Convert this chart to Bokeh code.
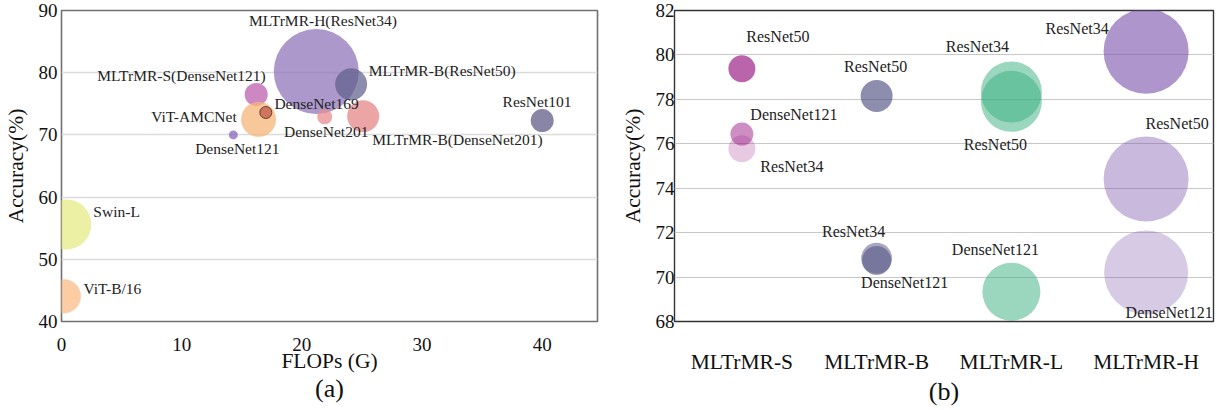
from bokeh.plotting import figure
from bokeh.models import Range1d, FixedTicker, FactorRange, Title, ColumnDataSource
from bokeh.layouts import row
from bokeh.core.properties import value
from bokeh.embed import file_html
from bokeh.resources import INLINE

FONT = "Liberation Serif"

# ---------------- data: panel (a) ----------------
models_a = ["MLTrMR-H(ResNet34)", "MLTrMR-B(ResNet50)", "MLTrMR-S(DenseNet121)",
            "ViT-AMCNet", "DenseNet169", "DenseNet201", "MLTrMR-B(DenseNet201)",
            "ResNet101", "DenseNet121", "Swin-L", "ViT-B/16"]
flops_a = [21.2, 24.1, 16.2, 16.4, 17.0, 21.9, 25.1, 40.0, 14.3, 0.4, 0.2]
acc_a = [80.2, 78.15, 76.5, 72.5, 73.6, 72.9, 73.0, 72.3, 70.0, 55.6, 44.05]
bubble_a = [85, 32, 23, 35, 12, 15, 32, 23, 9, 50, 34]

# ---------------- data: panel (b) ----------------
variants_b = ["MLTrMR-S", "MLTrMR-B", "MLTrMR-L", "MLTrMR-H"]
variant_b = ["MLTrMR-S"] * 3 + ["MLTrMR-B"] * 3 + ["MLTrMR-L"] * 3 + ["MLTrMR-H"] * 3
backbone_b = ["ResNet50", "DenseNet121", "ResNet34",
              "ResNet50", "ResNet34", "DenseNet121",
              "ResNet34", "ResNet50", "DenseNet121",
              "ResNet34", "ResNet50", "DenseNet121"]
acc_b = [79.38, 76.44, 75.78,
         78.15, 70.85, 70.75,
         78.33, 77.91, 69.34,
         80.17, 74.41, 70.21]
bubble_b = [27, 23, 27, 32, 31, 29, 61, 61, 58, 85, 85, 84]

# ---------------- styles ----------------
colors_a = ["#9076b8", "#5f5f8e", "#bc5faf", "#f6b67a", "#c05a48", "#e88e8e",
            "#e48787", "#5f5f87", "#8766bc", "#e4eb87", "#f8bc87"]
alpha_a = [0.75, 0.72, 0.75, 0.75, 0.75, 0.75, 0.75, 0.75, 0.75, 0.75, 0.75]
line_a = [None, None, None, None, "#6e3a30", None, None, None, None, None, None]
dx_a = [6.6, 91, -74.7, -64.6, 50.8, 1.5, 94.3, -5.2, 4, 50.3, 48.5]
dy_a = [-50.8, -13.8, -19.3, -2.7, -9.5, 14.6, 23.4, -19.5, 14, -12.7, -8.3]

colors_b = ["#a0288c"] * 3 + ["#505082"] * 3 + ["#37af7d"] * 3 + ["#7850aa"] * 3
alpha_b = [0.72, 0.52, 0.25, 0.65, 0.5, 0.55, 0.5, 0.5, 0.5, 0.6, 0.4, 0.3]
dx_b = [36, 52, 50, -1, -23, 28, -34, -16, -16, -69, 31, 23]
dy_b = [-32, -20, 18, -30, -27, 22, -46, 43, -42, -23, -56, 40]


def style(p, grid_color, grid_width, outline_color, outline_width):
    p.background_fill_color = "white"
    p.border_fill_color = "white"
    p.outline_line_color = outline_color
    p.outline_line_width = outline_width
    p.xgrid.grid_line_color = None
    p.ygrid.grid_line_color = grid_color
    p.ygrid.grid_line_width = grid_width
    for ax in (p.xaxis[0], p.yaxis[0]):
        ax.axis_line_color = None
        ax.major_tick_line_color = None
        ax.minor_tick_line_color = None
        ax.major_tick_out = 0
        ax.major_tick_in = 0
        ax.major_label_text_font = FONT
        ax.major_label_text_color = "#111111"
        ax.axis_label_text_font = FONT
        ax.axis_label_text_font_style = "normal"
        ax.axis_label_text_color = "#111111"
        ax.axis_label_text_font_size = "21.5px"


# ---------------- panel (a) ----------------
p1 = figure(width=606, height=410, x_range=Range1d(0, 44.6), y_range=Range1d(40, 90),
            output_backend="svg", toolbar_location=None,
            min_border_left=58, min_border_right=9, min_border_top=10, min_border_bottom=89)
style(p1, "#dcdcdc", 1.6, "#707070", 1.6)
p1.xaxis.ticker = FixedTicker(ticks=[0, 10, 20, 30, 40])
p1.yaxis.ticker = FixedTicker(ticks=[40, 50, 60, 70, 80, 90])
p1.xaxis.major_label_text_font_size = "19px"
p1.yaxis.major_label_text_font_size = "19px"
p1.xaxis.major_label_standoff = 16
p1.yaxis.major_label_standoff = 4
p1.xaxis.axis_label = "FLOPs (G)"
p1.yaxis.axis_label = "Accuracy(%)"
p1.xaxis.axis_label_standoff = -5
p1.yaxis.axis_label_standoff = 8

src_a = ColumnDataSource(dict(x=flops_a, y=acc_a, d=bubble_a, c=colors_a, a=alpha_a,
                              lc=line_a, label=models_a, dx=dx_a, dy=dy_a))
p1.scatter(x="x", y="y", size="d", fill_color="c", fill_alpha="a", line_color="lc",
           line_width=1, source=src_a)
p1.text(x="x", y="y", text="label", x_offset="dx", y_offset="dy", source=src_a,
        text_align="center", text_baseline="middle", text_font=value(FONT),
        text_font_size="15.5px", text_color="#222222")
p1.add_layout(Title(text="(a)", align="center", text_font=FONT, text_font_style="normal",
                    text_font_size="26px", text_color="#111111", standoff=-7), "below")

# ---------------- panel (b) ----------------
p2 = figure(width=611, height=410, x_range=FactorRange(*variants_b), y_range=Range1d(68, 82),
            output_backend="svg", toolbar_location=None,
            min_border_left=68, min_border_right=4, min_border_top=10, min_border_bottom=89)
style(p2, "#c8c8c8", 1.2, "#333333", 1.4)
p2.yaxis.ticker = FixedTicker(ticks=[68, 70, 72, 74, 76, 78, 80, 82])
p2.xaxis.major_label_text_font_size = "21.5px"
p2.yaxis.major_label_text_font_size = "19px"
p2.xaxis.major_label_standoff = 28
p2.yaxis.major_label_standoff = 0
p2.yaxis.axis_label = "Accuracy(%)"
p2.yaxis.axis_label_standoff = 8

src_b = ColumnDataSource(dict(x=variant_b, y=acc_b, d=bubble_b, c=colors_b, a=alpha_b,
                              label=backbone_b, dx=dx_b, dy=dy_b))
p2.scatter(x="x", y="y", size="d", fill_color="c", fill_alpha="a", line_color=None,
           source=src_b)
p2.text(x="x", y="y", text="label", x_offset="dx", y_offset="dy", source=src_b,
        text_align="center", text_baseline="middle", text_font=value(FONT),
        text_font_size="16px", text_color="#222222")
p2.add_layout(Title(text="(b)", align="center", text_font=FONT, text_font_style="normal",
                    text_font_size="26px", text_color="#111111", standoff=-4), "below")

layout = row(p1, p2)
open("out.html", "w").write(file_html(layout, INLINE))
